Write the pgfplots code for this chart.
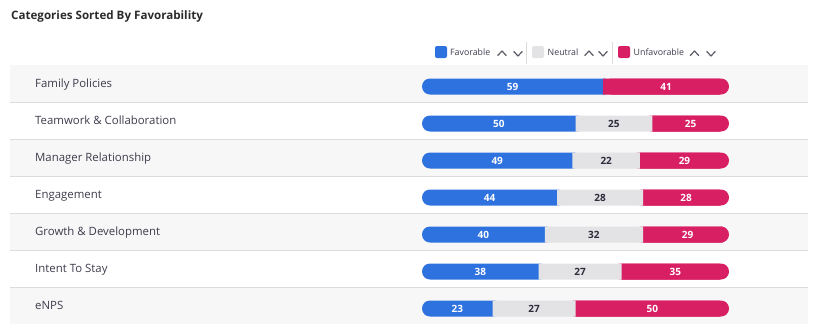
\documentclass[border=0pt]{standalone}
\usepackage{pgfplots}
\pgfplotsset{compat=1.18}
\usepackage{pgfplotstable}
\usepackage{fontspec}
\setmainfont{Open Sans}
\definecolor{fav}{HTML}{2E72E0}
\definecolor{neu}{HTML}{E3E3E6}
\definecolor{unf}{HTML}{D81F63}
\definecolor{rowbg}{HTML}{F7F7F7}
\definecolor{sep}{HTML}{DCDCDC}
\definecolor{lbl}{HTML}{3D3D4D}
\definecolor{ttl}{HTML}{2B2B2B}
\definecolor{chev}{HTML}{5A5A66}
\definecolor{neutxt}{HTML}{2B2B3B}

\pgfplotstableread{
y fav neu unf tot
1 59 0 41 100
2 50 25 25 100
3 49 22 29 100
4 44 28 28 100
5 40 32 29 100
6 38 27 35 100
7 23 27 50 100
}\datatab

\pgfplotsset{
  base/.style={
    at={(10pt,-324pt)}, anchor=south west,
    scale only axis, width=798pt, height=259pt,
    xmin=-134.2, xmax=125.73, ymin=0.5, ymax=7.5, y dir=reverse,
    axis line style={draw=none}, tick style={draw=none},
    xtick=\empty, ytick=\empty, clip=false,
  },
  vallbl/.style={only marks, mark=none, nodes near coords,
    point meta=explicit symbolic,
    every node near coord/.style={anchor=center, inner sep=0pt,
      font=\fontsize{10}{12}\selectfont\bfseries, text=#1}},
}
\newcommand\chevup[1]{\draw[chev, line width=1.2pt, line cap=round, line join=round] (#1pt-4.2pt,-55.5pt) -- (#1pt,-51pt) -- (#1pt+4.2pt,-55.5pt);}
\newcommand\chevdn[1]{\draw[chev, line width=1.2pt, line cap=round, line join=round] (#1pt-4.2pt,-51.5pt) -- (#1pt,-56pt) -- (#1pt+4.2pt,-51.5pt);}
\begin{document}
\begin{tikzpicture}
\useasboundingbox (0pt,0pt) rectangle (820pt,-333pt);
% title
\node[anchor=base west, inner sep=0pt, font=\fontsize{11.6}{13}\selectfont\bfseries, text=ttl] at (11pt,-19.8pt) {Categories Sorted By Favorability};
% legend
\fill[fav, rounded corners=2pt] (435pt,-46pt) rectangle (447pt,-58pt);
\node[anchor=base west, inner sep=0pt, font=\fontsize{8.8}{11}\selectfont, text=lbl] at (450pt,-55.7pt) {Favorable};
\chevup{502}\chevdn{518}
\draw[sep, line width=0.8pt] (526pt,-42pt) -- (526pt,-64pt);
\fill[neu, rounded corners=2pt] (532pt,-46pt) rectangle (544pt,-58pt);
\node[anchor=base west, inner sep=0pt, font=\fontsize{8.8}{11}\selectfont, text=lbl] at (547.5pt,-55.7pt) {Neutral};
\chevup{589}\chevdn{603}
\draw[sep, line width=0.8pt] (612pt,-42pt) -- (612pt,-64pt);
\fill[unf, rounded corners=2pt] (618pt,-46pt) rectangle (630pt,-58pt);
\node[anchor=base west, inner sep=0pt, font=\fontsize{8.8}{11}\selectfont, text=lbl] at (633.5pt,-55.7pt) {Unfavorable};
\chevup{694.5}\chevdn{711}

% axis A: backgrounds, labels, blue pill
\begin{axis}[base, axis on top,
  ytick={1,...,7},
  yticklabels={Family Policies, Teamwork \& Collaboration, Manager Relationship, Engagement, Growth \& Development, Intent To Stay, eNPS},
  yticklabel style={anchor=west, inner sep=0pt, xshift=25pt, yshift=-1.5pt, text height=8pt, text depth=2.5pt,
    font=\fontsize{11.4}{13}\selectfont, text=lbl}]
\fill[rowbg] (axis cs:-134.2,0.5) rectangle (axis cs:125.73,1.5);
\fill[rowbg] (axis cs:-134.2,2.5) rectangle (axis cs:125.73,3.5);
\fill[rowbg] (axis cs:-134.2,4.5) rectangle (axis cs:125.73,5.5);
\fill[rowbg] (axis cs:-134.2,6.5) rectangle (axis cs:125.73,7.5);
\draw[sep, line width=1pt] (axis cs:-134.2,1.5) -- (axis cs:125.73,1.5);
\draw[sep, line width=1pt] (axis cs:-134.2,2.5) -- (axis cs:125.73,2.5);
\draw[sep, line width=1pt] (axis cs:-134.2,3.5) -- (axis cs:125.73,3.5);
\draw[sep, line width=1pt] (axis cs:-134.2,4.5) -- (axis cs:125.73,4.5);
\draw[sep, line width=1pt] (axis cs:-134.2,5.5) -- (axis cs:125.73,5.5);
\draw[sep, line width=1pt] (axis cs:-134.2,6.5) -- (axis cs:125.73,6.5);
\addplot[xbar, bar width=16pt, bar shift=0pt, fill=fav, draw=none, rounded corners=8pt]
  table[x expr=\thisrow{fav}+3, y expr=\thisrow{y}+0.081] {\datatab};
\end{axis}

% axis A2: red pill (rounded right end), stacked after an invisible offset
\begin{axis}[base, xbar stacked, bar width=16pt]
\addplot[draw=none, fill=none] table[x expr={\thisrow{fav}+max(\thisrow{neu}-3,0)}, y expr=\thisrow{y}+0.081] {\datatab};
\addplot[draw=none, fill=unf, rounded corners=8pt] table[x expr={\thisrow{tot}-\thisrow{fav}-max(\thisrow{neu}-3,0)}, y expr=\thisrow{y}+0.081] {\datatab};
\end{axis}

% axis B: stacked square segments
\begin{axis}[base, xbar stacked, bar width=16pt]
\addplot[draw=none, fill=none] table[x=fav, y expr=\thisrow{y}+0.081] {\datatab};
\addplot[draw=none, fill=neu] table[x=neu, y expr=\thisrow{y}+0.081] {\datatab};
\addplot[draw=none, fill=unf] table[x expr=\thisrow{unf}-3, y expr=\thisrow{y}+0.081] {\datatab};
\end{axis}

% axis C: value labels
\begin{axis}[base]
\addplot[vallbl=white] table[x expr=\thisrow{fav}/2, y expr=\thisrow{y}+0.081, meta=fav] {\datatab};
\addplot[vallbl=neutxt, skip coords between index={0}{1}] table[x expr=\thisrow{fav}+\thisrow{neu}/2, y expr=\thisrow{y}+0.081, meta=neu] {\datatab};
\addplot[vallbl=white] table[x expr=\thisrow{fav}+\thisrow{neu}+\thisrow{unf}/2, y expr=\thisrow{y}+0.081, meta=unf] {\datatab};
\end{axis}
\end{tikzpicture}
\end{document}
